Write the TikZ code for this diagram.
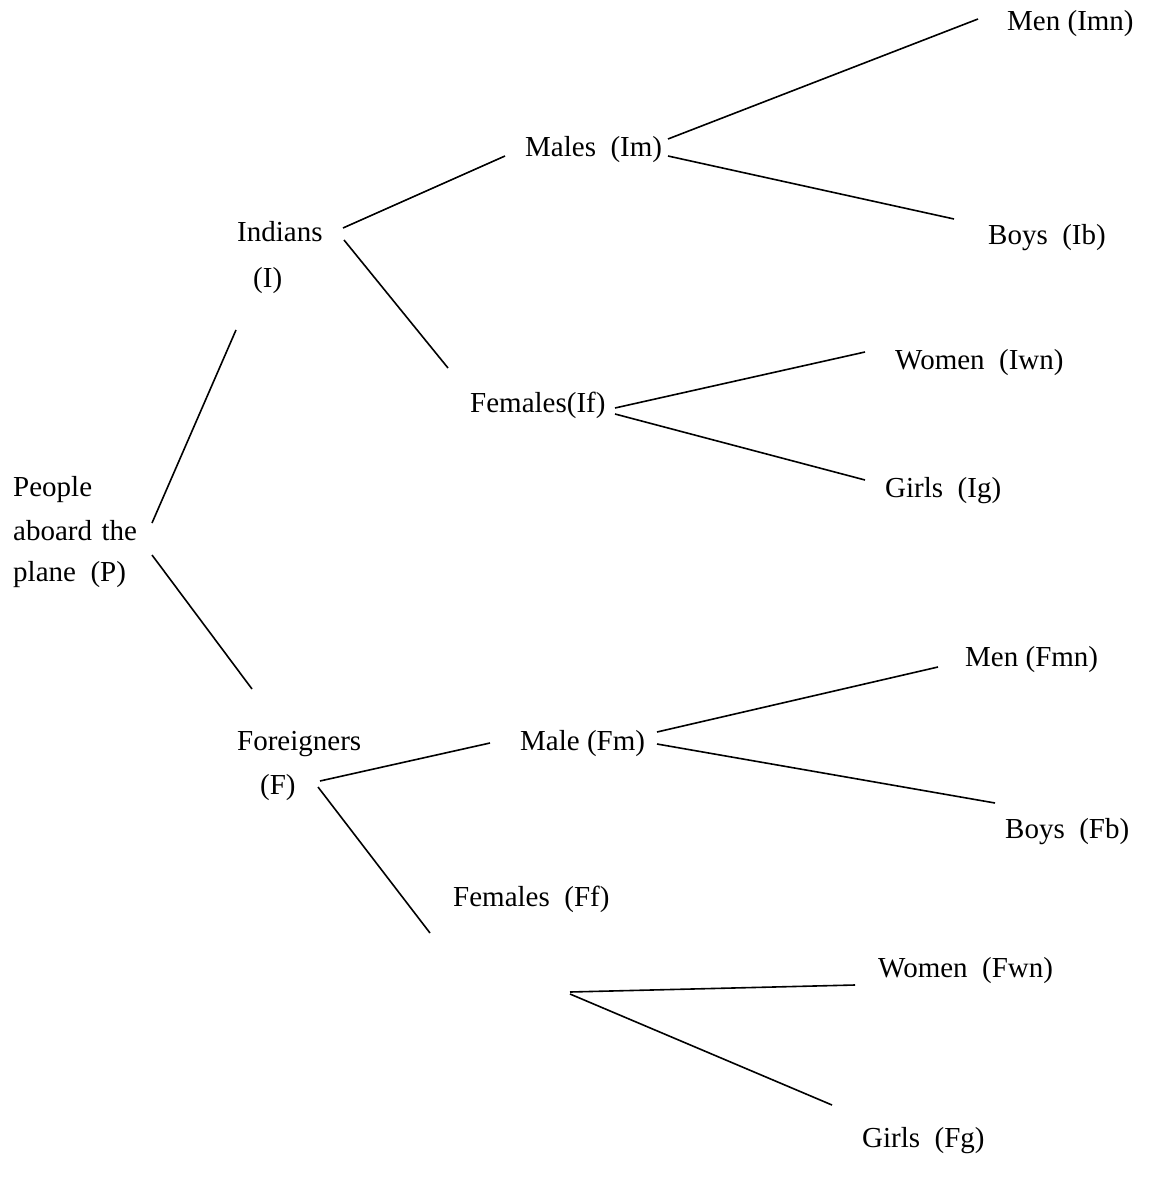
\documentclass[tikz,border=0pt]{standalone}
\usepackage{fontspec}
\setmainfont{Liberation Serif}
\begin{document}
\begin{tikzpicture}[x=1pt,y=-1pt,
  lbl/.style={anchor=base west, inner sep=0pt, font=\fontsize{29}{44}\selectfont},
  edge/.style={line width=1.6pt, line cap=butt}]
\useasboundingbox (0,0) rectangle (1152,1182);
% labels
\node[lbl] (P1) at (13,496) {People};
\node[lbl] (P2) at (13,540) {aboard\hspace{0.33em}the};
\node[lbl] (P3) at (13,581) {plane\ \ (P)};
\node[lbl] (I1) at (237,242) {Indians};
\node[lbl] (I2) at (253,287) {(I)};
\node[lbl] (F1) at (237,750) {Foreigners};
\node[lbl] (F2) at (260,794) {(F)};
\node[lbl] (Im) at (525,157) {Males\ \ (Im)};
\node[lbl] (If) at (470,412) {Females(If)};
\node[lbl] (Fm) at (520,750) {Male (Fm)};
\node[lbl] (Ff) at (453,906) {Females\ \ (Ff)};
\node[lbl] (Imn) at (1007,31) {Men (Imn)};
\node[lbl] (Ib) at (988,244) {Boys\ \ (Ib)};
\node[lbl] (Iwn) at (895,369) {Women\ \ (Iwn)};
\node[lbl] (Ig) at (885,497) {Girls\ \ (Ig)};
\node[lbl] (Fmn) at (965,666) {Men (Fmn)};
\node[lbl] (Fb) at (1005,838) {Boys\ \ (Fb)};
\node[lbl] (Fwn) at (878,977) {Women\ \ (Fwn)};
\node[lbl] (Fg) at (862,1147) {Girls\ \ (Fg)};
% connector ends
\coordinate (pI) at (152,523);  \coordinate (iP) at (236,330);
\coordinate (pF) at (152,555);  \coordinate (fP) at (252,689);
\coordinate (iIm) at (343,228); \coordinate (imI) at (505,156);
\coordinate (iIf) at (344,240); \coordinate (ifI) at (448,368);
\coordinate (imA) at (668,139); \coordinate (imnA) at (978,19);
\coordinate (imB) at (668,156); \coordinate (ibA) at (954,219);
\coordinate (ifA) at (615,408); \coordinate (iwnA) at (865,352);
\coordinate (ifB) at (615,414); \coordinate (igA) at (865,480);
\coordinate (fFm) at (320,781); \coordinate (fmF) at (490,743);
\coordinate (fFf) at (318,787); \coordinate (ffF) at (430,933);
\coordinate (fmA) at (657,732); \coordinate (fmnA) at (938,667);
\coordinate (fmB) at (657,744); \coordinate (fbA) at (995,803);
\coordinate (ffA) at (570,992); \coordinate (fwnA) at (855,985);
\coordinate (ffB) at (570,994); \coordinate (fgA) at (832,1105);
% connectors
\draw[edge] (pI) -- (iP);
\draw[edge] (pF) -- (fP);
\draw[edge] (iIm) -- (imI);
\draw[edge] (iIf) -- (ifI);
\draw[edge] (imA) -- (imnA);
\draw[edge] (imB) -- (ibA);
\draw[edge] (ifA) -- (iwnA);
\draw[edge] (ifB) -- (igA);
\draw[edge] (fFm) -- (fmF);
\draw[edge] (fFf) -- (ffF);
\draw[edge] (fmA) -- (fmnA);
\draw[edge] (fmB) -- (fbA);
\draw[edge] (ffA) -- (fwnA);
\draw[edge] (ffB) -- (fgA);
\end{tikzpicture}
\end{document}
